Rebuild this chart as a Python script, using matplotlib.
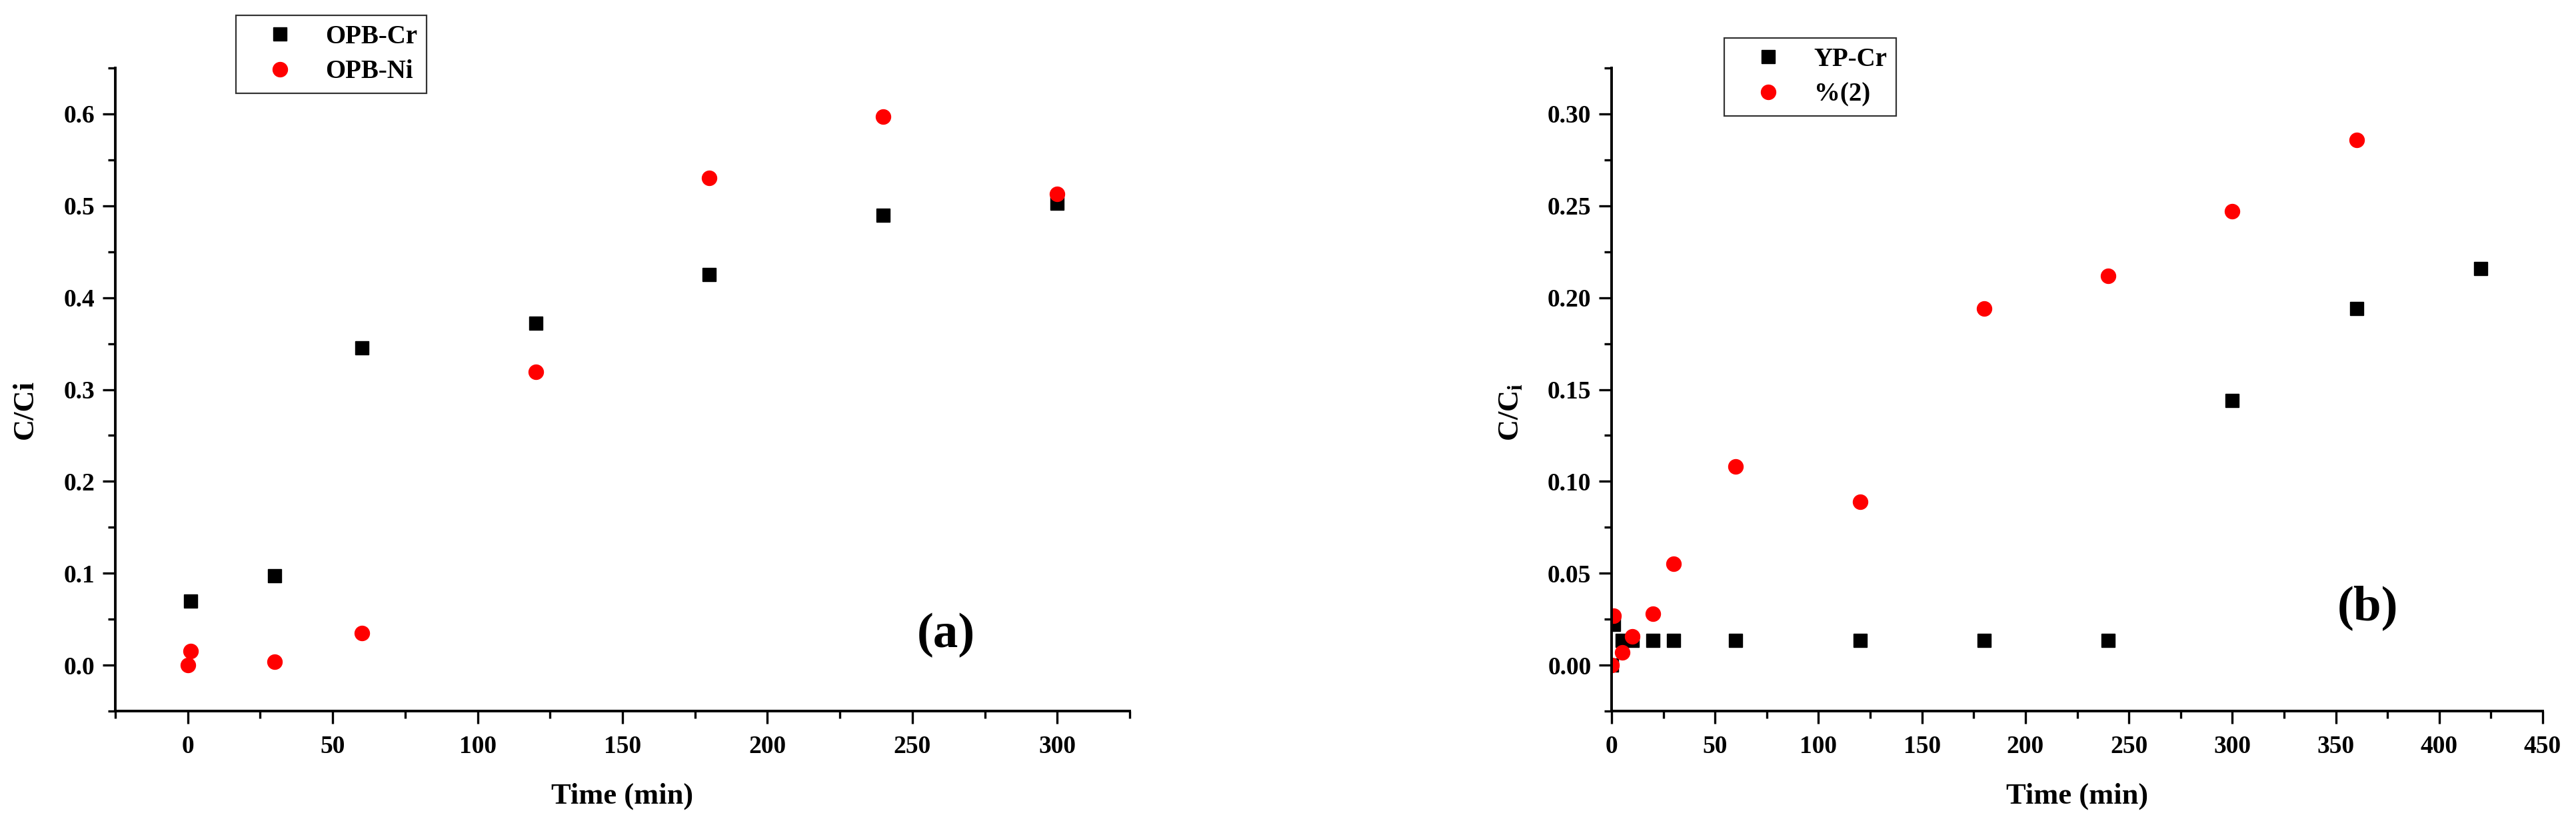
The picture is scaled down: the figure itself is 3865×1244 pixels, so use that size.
import matplotlib
matplotlib.use("Agg")
import matplotlib.pyplot as plt
from matplotlib.ticker import MultipleLocator

# ---- data ----
t_opb_cr = [1, 30, 60, 120, 180, 240, 300]
opb_cr = [0.070, 0.097, 0.345, 0.372, 0.425, 0.490, 0.503]
t_opb_ni = [0, 1, 30, 60, 120, 180, 240, 300]
opb_ni = [0.000, 0.015, 0.004, 0.035, 0.319, 0.530, 0.597, 0.513]

t_yp_cr = [0, 1, 5, 10, 20, 30, 60, 120, 180, 240, 300, 360, 420]
yp_cr = [0.000, 0.022, 0.0134, 0.0134, 0.0134, 0.0134, 0.0134, 0.0134, 0.0134, 0.0134, 0.144, 0.194, 0.216]
t_yp_2 = [0, 1, 5, 10, 20, 30, 60, 120, 180, 240, 300, 360]
yp_2 = [0.000, 0.027, 0.007, 0.0157, 0.028, 0.055, 0.108, 0.089, 0.194, 0.212, 0.247, 0.286]

labels_a = ["OPB-Cr", "OPB-Ni"]
labels_b = ["YP-Cr", "%(2)"]

plt.rcParams['font.family'] = ['Liberation Serif', 'DejaVu Serif']
plt.rcParams['font.weight'] = 'bold'
plt.rcParams['mathtext.fontset'] = 'custom'
plt.rcParams['mathtext.rm'] = 'Liberation Serif:bold'
plt.rcParams['mathtext.bf'] = 'Liberation Serif:bold'
plt.rcParams['mathtext.it'] = 'Liberation Serif:bold:italic'

W, H = 3865, 1244
fig = plt.figure(figsize=(W / 100, H / 100), dpi=100)

def px_axes(x0, x1, y0, y1):
    return fig.add_axes([x0 / W, 1 - y1 / H, (x1 - x0) / W, (y1 - y0) / H])

axA = px_axes(173, 1695, 102, 1067)
axB = px_axes(2418, 3815, 102, 1067)

SQ = 13.7
CI = 15.8

def style(ax, xmaj, xmin, ymaj, ymin):
    for s in ['top', 'right']:
        ax.spines[s].set_visible(False)
    for s in ['left', 'bottom']:
        ax.spines[s].set_linewidth(2.8)
    ax.xaxis.set_major_locator(MultipleLocator(xmaj))
    ax.xaxis.set_minor_locator(MultipleLocator(xmin))
    ax.yaxis.set_major_locator(MultipleLocator(ymaj))
    ax.yaxis.set_minor_locator(MultipleLocator(ymin))
    ax.tick_params(which='major', direction='out', length=14, width=2.4,
                   labelsize=27, pad=8)
    ax.tick_params(which='minor', direction='out', length=8, width=2.4)
    ax.tick_params(axis='x', which='major', pad=12)
    for lab in ax.get_xticklabels() + ax.get_yticklabels():
        lab.set_fontweight('bold')

# ---- panel (a) ----
axA.plot(t_opb_cr, opb_cr, ls='none', marker='s', ms=SQ, color='black', label=labels_a[0])
axA.plot(t_opb_ni, opb_ni, ls='none', marker='o', ms=CI, color='red', label=labels_a[1])
axA.set_xlim(-25, 325)
axA.set_ylim(-0.05, 0.65)
style(axA, 50, 25, 0.1, 0.05)
axA.yaxis.set_major_formatter(matplotlib.ticker.FormatStrFormatter('%.1f'))
axA.set_xlabel("Time (min)", fontsize=32, fontweight='bold')
axA.set_ylabel("C/Ci", fontsize=32, fontweight='bold')
axA.xaxis.set_label_coords(0.5, -0.1325)
axA.xaxis.label.set_verticalalignment('center')
axA.yaxis.set_label_coords(-0.0887, 0.469)
axA.yaxis.label.set_verticalalignment('center')
axA.text(0.819, 0.118, "(a)", transform=axA.transAxes, fontsize=54,
         fontweight='bold', ha='center', va='center')
legA = axA.legend(loc='upper left', bbox_to_anchor=(354 / W, 1 - 23 / H),
                  bbox_transform=fig.transFigure, borderaxespad=0,
                  fontsize=28, frameon=True, fancybox=False, numpoints=1,
                  handlelength=2.67, handletextpad=0.44, borderpad=0.35,
                  labelspacing=0.4)
legA.get_frame().set_edgecolor('black')
legA.get_frame().set_linewidth(1.6)

# ---- panel (b) ----
axB.plot(t_yp_cr, yp_cr, ls='none', marker='s', ms=SQ, color='black', label=labels_b[0])
axB.plot(t_yp_2, yp_2, ls='none', marker='o', ms=CI, color='red', label=labels_b[1])
axB.set_xlim(0, 450)
axB.set_ylim(-0.025, 0.325)
style(axB, 50, 25, 0.05, 0.025)
axB.yaxis.set_major_formatter(matplotlib.ticker.FormatStrFormatter('%.2f'))
axB.set_xlabel("Time (min)", fontsize=32, fontweight='bold')
axB.set_ylabel(r"C/C$_\mathrm{i}$", fontsize=32, fontweight='bold')
axB.xaxis.set_label_coords(0.5, -0.1325)
axB.xaxis.label.set_verticalalignment('center')
axB.yaxis.set_label_coords(-0.108, 0.465)
axB.yaxis.label.set_verticalalignment('center')
axB.text(0.812, 0.160, "(b)", transform=axB.transAxes, fontsize=54,
         fontweight='bold', ha='center', va='center')
legB = axB.legend(loc='upper left', bbox_to_anchor=(2587 / W, 1 - 57 / H),
                  bbox_transform=fig.transFigure, borderaxespad=0,
                  fontsize=28, frameon=True, fancybox=False, numpoints=1,
                  handlelength=2.67, handletextpad=0.44, borderpad=0.35,
                  labelspacing=0.4)
legB.get_frame().set_edgecolor('black')
legB.get_frame().set_linewidth(1.6)

fig.savefig("out.png", dpi=100)
